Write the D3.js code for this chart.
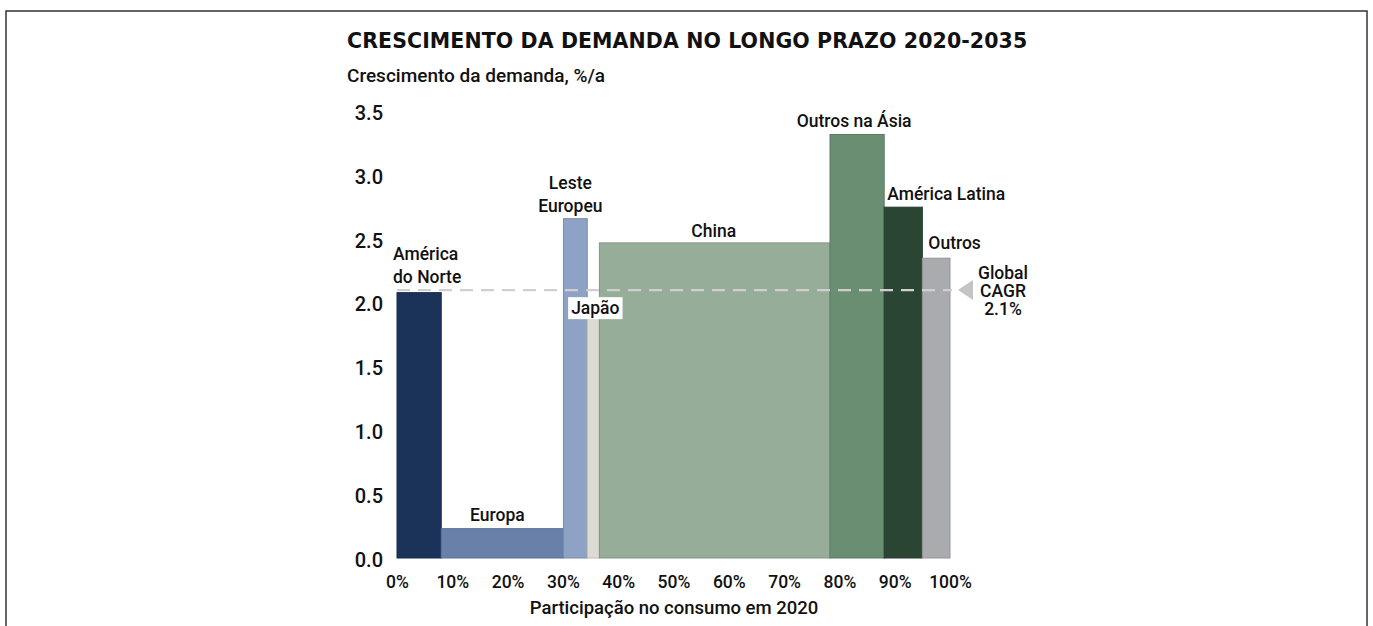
<!DOCTYPE html>
<html>
<head>
<meta charset="utf-8">
<script src="https://cdn.jsdelivr.net/npm/d3@7"></script>
<style>
  body { margin: 0; background: #fff; }
  svg text { font-family: Roboto, sans-serif; font-weight: 500; fill: #111; }
  svg text.title { font-family: "DejaVu Sans", sans-serif; font-weight: 700; }
</style>
</head>
<body>
<div id="chart"></div>
<script>
// regions, share of 2020 consumption (%), demand growth (%/a)
const regions = ["América do Norte", "Europa", "Leste Europeu", "Japão", "China", "Outros na Ásia", "América Latina", "Outros"];
const shares = [8.0, 22.1, 4.3, 2.2, 41.7, 9.8, 6.9, 5.0];
const growth = [2.08, 0.23, 2.66, 1.88, 2.47, 3.32, 2.75, 2.35];
const colors = ["#1b3359", "#6981a8", "#8ea2c5", "#dcdad3", "#96ad9a", "#6a8e72", "#2a4632", "#aaabae"];
const globalCagr = 2.1;
const yTicks = [0, 0.5, 1.0, 1.5, 2.0, 2.5, 3.0, 3.5];
const xTicks = [0, 10, 20, 30, 40, 50, 60, 70, 80, 90, 100];

const width = 1373, height = 626;
const margin = {top: 111.5, right: 423, bottom: 68, left: 397};

const svg = d3.select("#chart")
  .append("svg")
    .attr("width", width)
    .attr("height", height);

// frame
svg.append("rect")
  .attr("x", 6).attr("y", 11)
  .attr("width", 1361).attr("height", 640)
  .attr("fill", "none")
  .attr("stroke", "#333")
  .attr("stroke-width", 1.5);

const xScale = d3.scaleLinear([0, 100], [margin.left, width - margin.right]);
const yScale = d3.scaleLinear([0, 3.5], [height - margin.bottom, margin.top]);

// cumulative positions
const starts = [];
let acc = 0;
shares.forEach(s => { starts.push(acc); acc += s; });
const I = d3.range(regions.length);

// title + y label
const titleText = "CRESCIMENTO DA DEMANDA NO LONGO PRAZO 2020-2035";
const title = svg.append("text")
  .attr("class", "title")
  .attr("x", 347).attr("y", 48)
  .style("font-size", "20.5px")
  .text(titleText);
// stretch to the reference width with letter spacing
const natural = title.node().getComputedTextLength();
title.style("letter-spacing", Math.max(0, (680 - natural) / (titleText.length - 1)).toFixed(2) + "px");

svg.append("text")
  .attr("x", 347).attr("y", 82)
  .style("font-size", "19px")
  .text("Crescimento da demanda, %/a");

// bars
svg.append("g")
  .selectAll("rect")
  .data(I)
  .join("rect")
    .attr("x", i => xScale(starts[i]))
    .attr("y", i => yScale(growth[i]))
    .attr("width", i => xScale(starts[i] + shares[i]) - xScale(starts[i]))
    .attr("height", i => yScale(0) - yScale(growth[i]))
    .attr("fill", i => colors[i])
    .attr("stroke", i => d3.color(colors[i]).darker(0.4))
    .attr("stroke-width", 1);

// global CAGR line
svg.append("line")
  .attr("x1", xScale(0)).attr("x2", xScale(100) + 2)
  .attr("y1", yScale(globalCagr)).attr("y2", yScale(globalCagr))
  .attr("stroke", "#cfcfcf")
  .attr("stroke-width", 2.2)
  .attr("stroke-dasharray", "13,8");

const cy = yScale(globalCagr);
const tx = xScale(100) + 8;
svg.append("path")
  .attr("d", `M${tx},${cy} L${tx + 15},${cy - 10} L${tx + 15},${cy + 10} Z`)
  .attr("fill", "#c4c4c4");

const cagrLabel = svg.append("text")
  .attr("x", 1003).attr("y", cy - 11)
  .attr("text-anchor", "middle")
  .style("font-size", "17.5px");
["Global", "CAGR", globalCagr.toFixed(1) + "%"].forEach((t, k) => {
  cagrLabel.append("tspan")
    .attr("x", 1003)
    .attr("dy", k === 0 ? 0 : 18)
    .text(t);
});

// bar labels
const labelLines = [["América", "do Norte"], ["Europa"], ["Leste", "Europeu"], ["Japão"], ["China"], ["Outros na Ásia"], ["América Latina"], ["Outros"]];
const labelAnchor = ["start", "middle", "middle", "middle", "middle", "middle", "start", "start"];
const labelDx = [-4, -5, -5, 2, -1, -3, 3, 6];
const labelGap = [10, 8, 7, 4, 6, 7, 7, 9];

I.forEach(i => {
  const x0 = xScale(starts[i]), x1 = xScale(starts[i] + shares[i]);
  const x = (labelAnchor[i] === "start" ? x0 : (x0 + x1) / 2) + labelDx[i];
  const yBase = yScale(growth[i]) - labelGap[i];
  const lines = labelLines[i];
  const t = svg.append("text")
    .attr("text-anchor", labelAnchor[i])
    .style("font-size", "17.5px");
  lines.forEach((ln, k) => {
    t.append("tspan")
      .attr("x", x)
      .attr("y", yBase - (lines.length - 1 - k) * 23)
      .text(ln);
  });
  if (regions[i] === "Japão") {
    const bb = t.node().getBBox();
    svg.insert("rect", () => t.node())
      .attr("x", bb.x - 3).attr("y", bb.y - 1)
      .attr("width", bb.width + 6).attr("height", bb.height + 2)
      .attr("fill", "#fff");
  }
});

// axes (labels only)
svg.append("g")
  .attr("transform", `translate(0,${height - margin.bottom + 3})`)
  .call(d3.axisBottom(xScale).tickValues(xTicks).tickFormat(d => d + "%").tickSize(0).tickPadding(15))
  .call(g => g.select(".domain").remove())
  .call(g => g.selectAll("text").style("font-size", "17.5px").attr("fill", "#111"));

svg.append("g")
  .attr("transform", `translate(${margin.left - 14},0)`)
  .call(d3.axisLeft(yScale).tickValues(yTicks).tickFormat(d3.format(".1f")).tickSize(0).tickPadding(0))
  .call(g => g.select(".domain").remove())
  .call(g => g.selectAll("text").style("font-size", "20px").attr("fill", "#111").attr("dy", "0.4em"));

svg.append("text")
  .attr("x", 674).attr("y", 614)
  .attr("text-anchor", "middle")
  .style("font-size", "18.5px")
  .text("Participação no consumo em 2020");
</script>
</body>
</html>
